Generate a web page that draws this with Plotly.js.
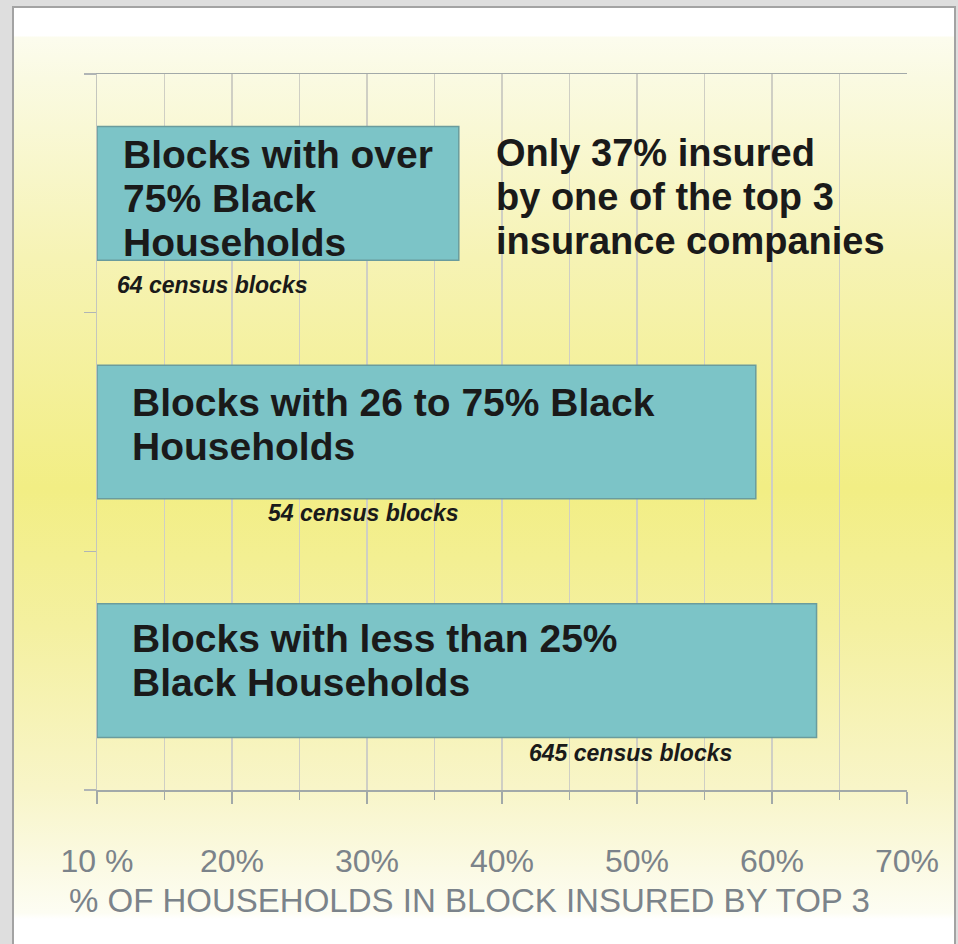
<!DOCTYPE html>
<html>
<head>
<meta charset="utf-8">
<script src="https://cdn.plot.ly/plotly-3.0.1.min.js"></script>
<style>
  html, body { margin: 0; padding: 0; background: #dedede; }
  #frame { position: absolute; left: 0; top: 0; width: 958px; height: 944px; background: #dedede; overflow: hidden; }
  #panel {
    position: absolute; left: 12px; top: 6px; width: 940px; height: 950px;
    border-top: 2px solid #a3a3a3; border-left: 2px solid #a3a3a3; border-right: 2px solid #a3a3a3;
    background: linear-gradient(to bottom,
      #ffffff 0px, #ffffff 28px, #fcfcee 29px, #fafae2 70px, #f6f3b4 250px,
      #f2ee84 480px, #f4f0a0 620px, #f8f5c8 780px, #fbfae4 860px, #fdfdf3 905px, #ffffff 911px, #ffffff 950px);
  }
  #chart { position: absolute; left: 0; top: 0; width: 958px; height: 944px; }
</style>
</head>
<body>
<div id="frame"><div id="panel"></div><div id="chart"></div></div>
<script>
// ---- data ----
const groups = ["Blocks with less than 25% Black Households",
                "Blocks with 26 to 75% Black Households",
                "Blocks with over 75% Black Households"];
const pctInsuredTop3 = [63.3, 58.8, 36.8];
const censusBlocks = [645, 54, 64];
const tickValues = [10, 20, 30, 40, 50, 60, 70];
const tickLabels = ["10 %", "20%", "30%", "40%", "50%", "60%", "70%"];
const barLabelLines = [
  ["Blocks with less than 25%", "Black Households"],
  ["Blocks with 26 to 75% Black", "Households"],
  ["Blocks with over", "75% Black", "Households"]
];
const calloutLines = ["Only 37% insured", "by one of the top 3", "insurance companies"];
const axisTitle = "% OF HOUSEHOLDS IN BLOCK INSURED BY TOP 3";

// ---- layout helpers (positions only) ----
const FONT = "Liberation Sans, Arial, Helvetica, sans-serif";
const AXIS_START = 10;
const barLabelX = [12.45, 12.45, 11.8];
const barLabelShift = [[32, -12], [30, -14], [39, -5, -49]];
const censusX = [41.85, 22.55, 11.35];
const censusShift = [-82, -81, -92];

const yIdx = groups.map((g, i) => i);

const trace = {
  type: "bar",
  orientation: "h",
  y: yIdx,
  x: pctInsuredTop3.map(v => v - AXIS_START),
  base: AXIS_START,
  width: 0.56,
  marker: { color: "#7cc4c7", line: { color: "#6a9c9d", width: 1.5 } },
  hoverinfo: "skip",
  textposition: "none"
};

const annotations = [];
barLabelLines.forEach((lines, i) => {
  lines.forEach((ln, j) => {
    annotations.push({
      xref: "x", yref: "y", x: barLabelX[i], y: yIdx[i],
      xanchor: "left", yanchor: "middle", yshift: barLabelShift[i][j],
      text: ln, showarrow: false,
      font: { family: FONT, size: 39, color: "#1a1a1a", weight: "bold" }
    });
  });
  annotations.push({
    xref: "x", yref: "y", x: censusX[i], y: yIdx[i],
    xanchor: "left", yanchor: "middle", yshift: censusShift[i],
    text: "<b><i>" + censusBlocks[i] + " census blocks</i></b>", showarrow: false,
    font: { family: FONT, size: 23, color: "#1a1a1a" }
  });
});
const calloutShift = [40, -4, -48];
calloutLines.forEach((ln, j) => {
  annotations.push({
    xref: "x", yref: "y", x: 39.4, y: 2,
    xanchor: "left", yanchor: "middle", yshift: calloutShift[j],
    text: ln, showarrow: false,
    font: { family: FONT, size: 38, color: "#1a1a1a", weight: "bold" }
  });
});
annotations.push({
  xref: "paper", yref: "paper", x: -0.037, y: -0.155,
  xanchor: "left", yanchor: "middle",
  text: axisTitle, showarrow: false,
  font: { family: FONT, size: 33, color: "#7b838a" }
});

const layout = {
  width: 958, height: 944,
  margin: { l: 97, r: 51, t: 74, b: 154 },
  paper_bgcolor: "rgba(0,0,0,0)",
  plot_bgcolor: "rgba(0,0,0,0)",
  showlegend: false,
  bargap: 0,
  xaxis: {
    range: [10, 70],
    tickmode: "array", tickvals: tickValues, ticktext: tickLabels,
    showgrid: true, gridcolor: "#cfcfc4", gridwidth: 1.5,
    ticks: "outside", ticklen: 12, tickcolor: "#a2a9a9", tickwidth: 1.2,
    minor: { dtick: 5, tick0: 10, showgrid: true, gridcolor: "#cfcfc4", gridwidth: 1.5, ticks: "outside", ticklen: 8, tickcolor: "#a2a9a9" },
    showline: true, linecolor: "#a2a9a9", linewidth: 1.5, mirror: true,
    zeroline: false,
    tickfont: { family: FONT, size: 32, color: "#7b838a" },
    ticklabelstandoff: 30,
    fixedrange: true
  },
  yaxis: {
    range: [-0.5, 2.5],
    tickmode: "array", tickvals: [-0.5, 0.5, 1.5, 2.5],
    showticklabels: false,
    ticks: "outside", ticklen: 12, tickcolor: "#b0b5b5", tickwidth: 1.5,
    showgrid: false, zeroline: false,
    showline: true, linecolor: "#c4c6be", linewidth: 1.5,
    fixedrange: true
  },
  annotations: annotations
};

Plotly.newPlot("chart", [trace], layout, { displayModeBar: false, staticPlot: true });
</script>
</body>
</html>
